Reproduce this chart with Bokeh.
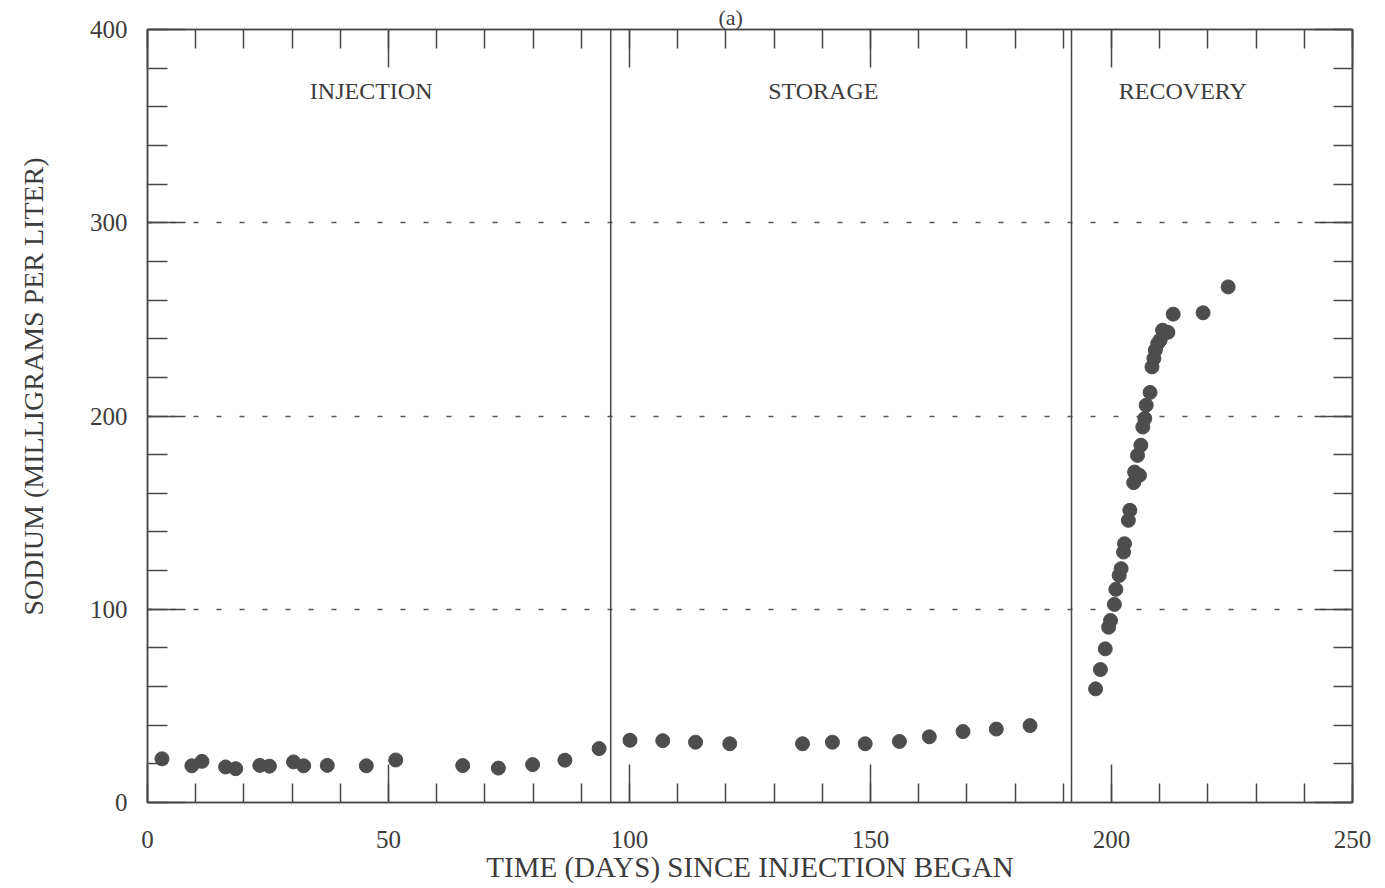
from bokeh.plotting import figure
from bokeh.models import (LinearAxis, SingleIntervalTicker, FixedTicker, Span,
                          Label, Title, ColumnDataSource, Range1d)
from bokeh.embed import file_html
from bokeh.resources import INLINE

# ---------------- data ----------------
days = [3.0, 9.2, 11.3, 16.2, 18.3, 23.3, 25.3, 30.3, 32.4, 37.3, 45.4, 51.5,
        65.4, 72.8, 79.9, 86.6, 93.7, 100.1, 106.9, 113.7, 120.8, 135.9, 142.1,
        148.9, 156.0, 162.2, 169.2, 176.1, 183.1,
        196.7, 197.7, 198.7, 199.4, 199.8, 200.6, 200.9, 201.6, 202.0, 202.5,
        202.7, 203.5, 203.8, 204.6, 204.8, 205.8, 205.4, 206.1, 206.5, 206.9,
        207.2, 208.0, 208.4, 208.8, 209.1, 209.6, 210.1, 210.6, 211.7, 212.8,
        219.0, 224.2]
sodium = [22.6, 19.0, 21.3, 18.4, 17.5, 19.2, 18.8, 21.0, 19.0, 19.2, 19.0, 22.0,
          19.1, 17.8, 19.6, 21.9, 27.9, 32.2, 32.0, 31.2, 30.4, 30.4, 31.2,
          30.4, 31.6, 34.0, 36.7, 38.0, 39.8,
          58.8, 68.8, 79.5, 90.7, 94.2, 102.5, 110.3, 117.5, 121.0, 129.6,
          133.9, 146.0, 151.2, 165.5, 171.0, 169.3, 179.6, 184.9, 194.3, 198.7,
          205.6, 212.2, 225.4, 229.8, 234.1, 237.6, 239.3, 244.4, 243.3, 252.7,
          253.4, 266.8]

phase_names = ["INJECTION", "STORAGE", "RECOVERY"]
phase_label_days = [46.4, 140.2, 214.8]
phase_label_level = 368
phase_boundaries = [96.1, 191.7]
dotted_levels = [100, 200, 300]
panel_tag = "(a)"

x_title = "TIME (DAYS) SINCE INJECTION BEGAN"
y_title = "SODIUM (MILLIGRAMS PER LITER)"

# ---------------- styling ----------------
FONT = "Liberation Serif"
INK = "#3c3c3c"
LINE = "#474747"
DOT = "#4d4d4d"

p = figure(width=1385, height=888,
           x_range=Range1d(0, 250), y_range=Range1d(0, 400),
           output_backend="svg", toolbar_location=None,
           min_border_left=147, min_border_right=33,
           min_border_top=29, min_border_bottom=86,
           x_axis_label=x_title,
           background_fill_color="white", border_fill_color="white")

p.outline_line_color = LINE
p.outline_line_width = 1.5

p.xgrid.visible = False
p.ygrid.ticker = FixedTicker(ticks=dotted_levels)
p.ygrid.grid_line_color = "#555555"
p.ygrid.grid_line_width = 1.5
p.ygrid.grid_line_dash = "5 18"


def style_axis(ax, major_len, minor_len, labels=True):
    ax.axis_line_color = LINE
    ax.axis_line_width = 1.5
    ax.major_tick_line_color = LINE
    ax.minor_tick_line_color = LINE
    ax.major_tick_line_width = 1.5
    ax.minor_tick_line_width = 1.5
    ax.major_tick_in = major_len
    ax.major_tick_out = 0
    ax.minor_tick_in = minor_len
    ax.minor_tick_out = 0
    ax.major_label_text_font = FONT
    if labels:
        ax.major_label_text_font_size = "25px"
        ax.major_label_text_color = INK
    else:
        ax.major_label_text_font_size = "1px"
        ax.major_label_text_color = None
        ax.major_label_standoff = 0
    ax.axis_label_text_font = FONT
    ax.axis_label_text_font_size = "29px"
    ax.axis_label_text_font_style = "normal"
    ax.axis_label_text_color = INK


xa = p.xaxis[0]
xa.ticker = SingleIntervalTicker(interval=50, num_minor_ticks=5)
style_axis(xa, 38, 19)
xa.major_label_standoff = 28
xa.axis_label_standoff = 0

ya = p.yaxis[0]
ya.ticker = SingleIntervalTicker(interval=100, num_minor_ticks=5)
style_axis(ya, 38, 20)
ya.major_label_standoff = 20
# undrawn spacer label: only widens the axis panel so the title below sits
# further out to the left, like in the reference
ya.axis_label = "."
ya.axis_label_text_color = None
ya.axis_label_text_font_size = "10px"
ya.axis_label_standoff = 11

top = LinearAxis(ticker=SingleIntervalTicker(interval=50, num_minor_ticks=5))
style_axis(top, 38, 19, labels=False)
p.add_layout(top, "above")

right = LinearAxis(ticker=SingleIntervalTicker(interval=100, num_minor_ticks=5))
style_axis(right, 38, 19, labels=False)
p.add_layout(right, "right")

for b in phase_boundaries:
    p.add_layout(Span(location=b, dimension="height", line_color=LINE,
                      line_width=1.5))

src = ColumnDataSource(dict(day=days, na=sodium))
p.scatter("day", "na", source=src, size=14, fill_color=DOT, line_color=DOT)

for name, d in zip(phase_names, phase_label_days):
    p.add_layout(Label(x=d, y=phase_label_level, text=name,
                       text_font=FONT, text_font_size="24px",
                       text_color=INK, text_align="center",
                       text_baseline="middle"))

# panel tag "(a)" as the figure title, just above the frame
p.title.text = panel_tag
p.title.align = "left"
p.title.offset = 571
p.title.standoff = 0
p.title.text_font = FONT
p.title.text_font_size = "22px"
p.title.text_font_style = "normal"
p.title.text_color = INK
p.title.vertical_align = "bottom"

# y-axis title, a little above the frame centre as in the reference
ytitle = Title(text=y_title, align="left", offset=187, standoff=30,
               text_font=FONT, text_font_size="28px",
               text_font_style="normal", text_color=INK,
               vertical_align="top")
p.add_layout(ytitle, "left")

open("out.html", "w").write(file_html(p, INLINE))
